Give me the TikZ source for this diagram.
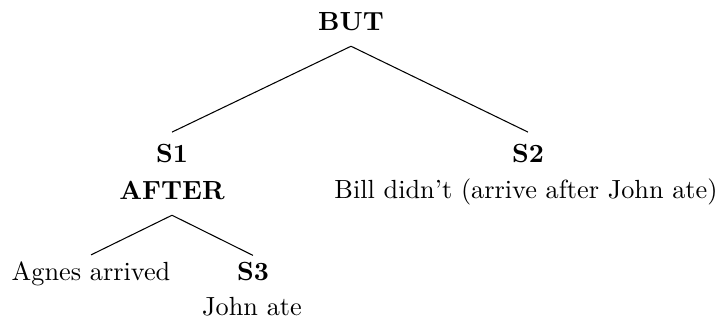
\documentclass[tikz,border=0pt]{standalone}
\begin{document}
\begin{tikzpicture}[x=0.381pt,y=-0.381pt,
  lbl/.style={inner sep=0pt,outer sep=0pt,anchor=base},
  hd/.style={lbl,font=\bfseries},
  edge/.style={line width=0.4pt}]
\useasboundingbox (0,0) rectangle (723,323);
\node[hd] (but) at (351,31) {BUT};
\node[hd] (s1) at (172,163) {S1};
\node[hd] (after) at (172,200) {AFTER};
\node[hd] (s2) at (528,163) {S2};
\node[lbl] (bill) at (526,199) {Bill didn't (arrive after John ate)};
\node[lbl] (agnes) at (91,280) {Agnes arrived};
\node[hd] (s3) at (253,280) {S3};
\node[lbl] (john) at (252,315) {John ate};
\draw[edge] ([yshift=-5.7pt]but.south) -- ([yshift=4.8pt]s1.north);
\draw[edge] ([yshift=-5.7pt]but.south) -- ([yshift=4.8pt]s2.north);
\draw[edge] ([yshift=-5.7pt]after.south) -- ([yshift=2.4pt]agnes.north);
\draw[edge] ([yshift=-5.7pt]after.south) -- ([yshift=2.4pt]s3.north);
\end{tikzpicture}
\end{document}
